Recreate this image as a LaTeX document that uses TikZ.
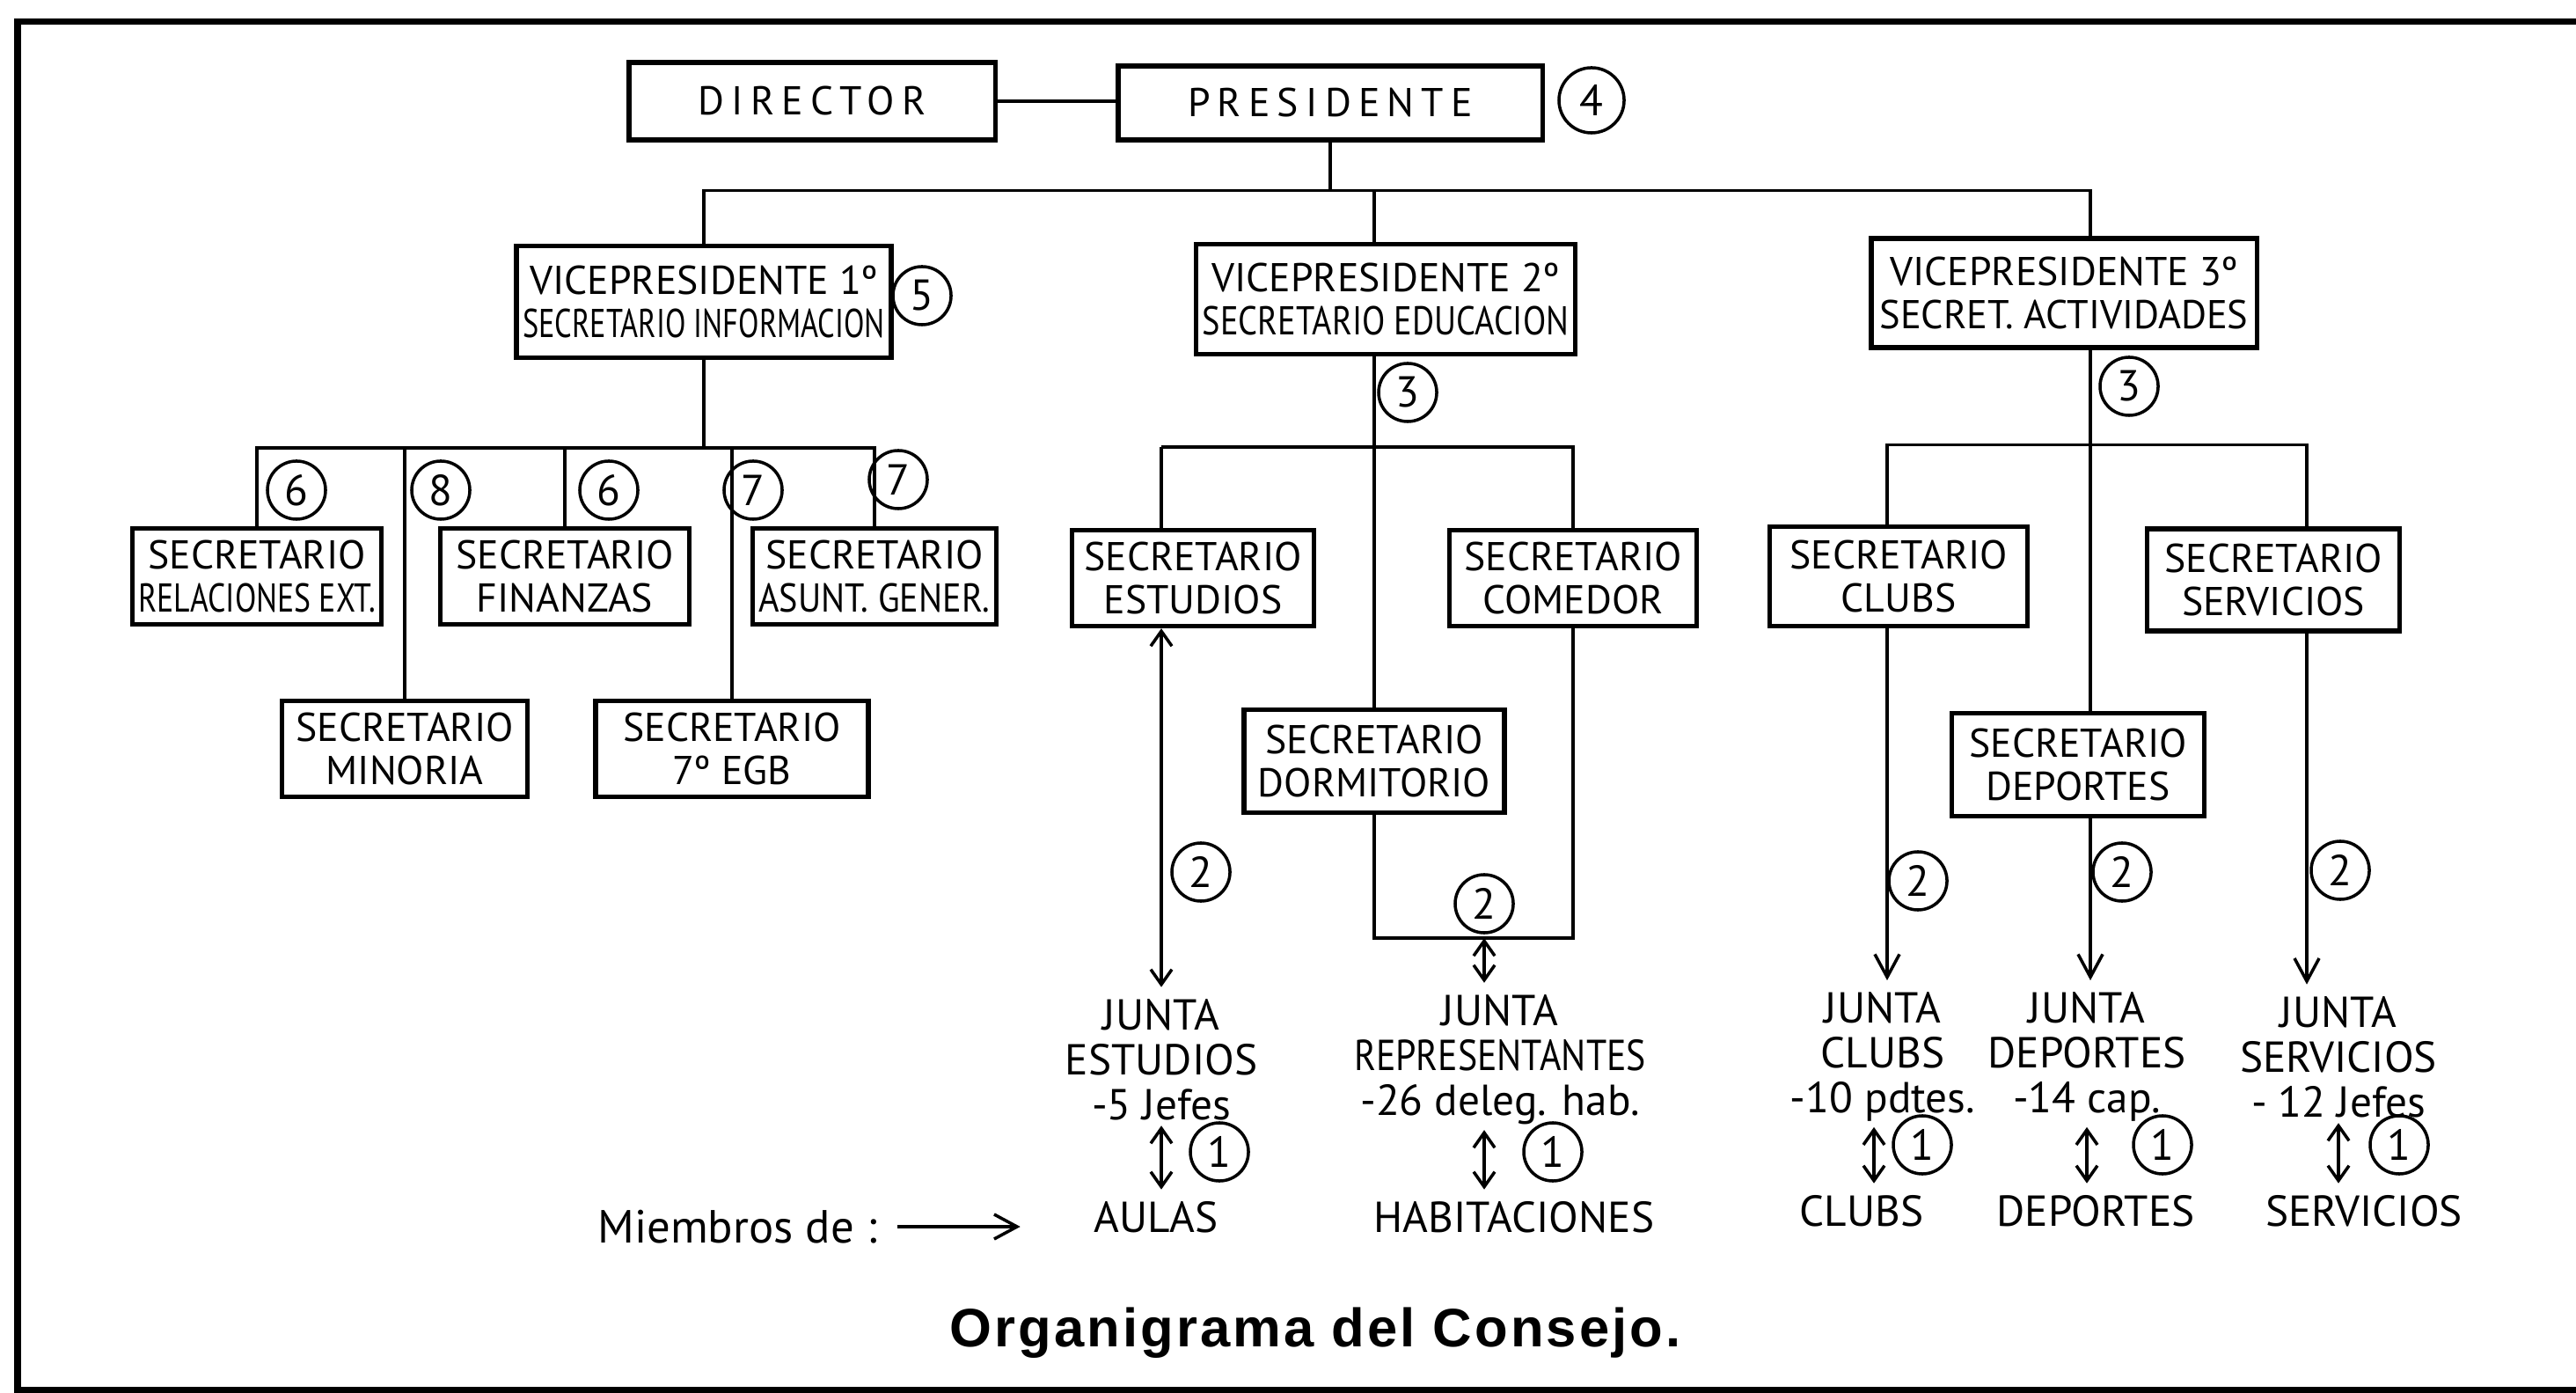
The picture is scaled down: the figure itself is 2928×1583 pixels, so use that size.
\documentclass[tikz,border=0pt]{standalone}
\usepackage{fontspec}
\setmainfont{PT Sans}
\newfontfamily\capfont[LetterSpace=5]{Liberation Sans}
\usepackage{graphicx}
\usetikzlibrary{arrows.meta,positioning}

\newcommand{\squeeze}[2]{\scalebox{#1}[1]{#2}}
\newcommand{\spread}[1]{{\addfontfeature{LetterSpace=18}#1}}

\begin{document}
\begin{tikzpicture}[
  x=0.01cm, y=-0.01cm,
  line width=1pt,
  box/.style={rectangle, draw, line width=1.5pt, align=center, inner sep=2pt,
              font=\fontsize{13}{14}\selectfont},
  num/.style={circle, draw, line width=1pt, minimum size=6.6mm, inner sep=0pt,
              font=\fontsize{14}{14}\selectfont},
  lbl/.style={align=center, font=\fontsize{14}{14.5}\selectfont},
  arr/.style={-{Straight Barb[length=2.6mm,width=2.8mm]}},
  dbl/.style={{Straight Barb[length=1.7mm,width=2.4mm]}-{Straight Barb[length=1.7mm,width=2.4mm]}}]
  \useasboundingbox (0,0) rectangle (2928,1583);
  \draw[line width=2pt] (2928,25) -- (20,25) -- (20,1580) -- (2928,1580);

  \node[box, minimum width=4.16cm, minimum height=8.8mm] (dir) at (923,115) {\spread{DIRECTOR}};
  \node[box, minimum width=4.82cm, minimum height=8.4mm] (pres) at (1512,117) {\spread{PRESIDENTE}};
  \node[num, minimum size=7.4mm] (n4) at (1809,114) {4};

  \node[box, minimum width=4.2cm, minimum height=12.7mm] (vp1) at (800,343)
    {VICEPRESIDENTE 1º\\\squeeze{0.75}{SECRETARIO INFORMACION}};
  \node[num] (n5) at (1048,336) {5};
  \node[box, minimum width=4.31cm, minimum height=12.5mm] (vp2) at (1575,340)
    {VICEPRESIDENTE 2º\\\squeeze{0.84}{SECRETARIO EDUCACION}};
  \node[num] (n3a) at (1600,446) {3};
  \node[box, minimum width=4.38cm, minimum height=12.4mm] (vp3) at (2346,333)
    {VICEPRESIDENTE 3º\\\squeeze{0.97}{SECRET. ACTIVIDADES}};
  \node[num] (n3b) at (2420,439) {3};

  \node[box, minimum width=2.71cm, minimum height=10.9mm] (rel) at (292,655)
    {SECRETARIO\\\squeeze{0.78}{RELACIONES EXT.}};
  \node[box, minimum width=2.83cm, minimum height=10.9mm] (fin) at (642,655) {SECRETARIO\\FINANZAS};
  \node[box, minimum width=2.75cm, minimum height=10.9mm] (asu) at (994,655)
    {SECRETARIO\\\squeeze{0.88}{ASUNT. GENER.}};
  \node[box, minimum width=2.79cm, minimum height=10.9mm] (min) at (460,851) {SECRETARIO\\MINORIA};
  \node[box, minimum width=3.1cm, minimum height=10.9mm] (egb) at (832,851) {SECRETARIO\\7º EGB};
  \node[num] (n6a) at (337,557) {6};
  \node[num] (n8) at (501,557) {8};
  \node[num] (n6b) at (692,557) {6};
  \node[num] (n7a) at (856,557) {7};
  \node[num] (n7b) at (1021,545) {7};

  \node[box, minimum width=2.75cm, minimum height=10.9mm] (est) at (1356,657) {SECRETARIO\\ESTUDIOS};
  \node[box, minimum width=2.81cm, minimum height=10.9mm] (com) at (1788,657) {SECRETARIO\\COMEDOR};
  \node[box, minimum width=2.96cm, minimum height=11.7mm] (dor) at (1562,865) {SECRETARIO\\DORMITORIO};
  \node[num] (n2a) at (1365,991) {2};
  \node[num] (n2b) at (1687,1027) {2};

  \node[box, minimum width=2.93cm, minimum height=11.3mm] (clu) at (2158,655) {SECRETARIO\\CLUBS};
  \node[box, minimum width=2.87cm, minimum height=11.6mm] (ser) at (2584,659) {SECRETARIO\\SERVICIOS};
  \node[box, minimum width=2.87cm, minimum height=11.7mm] (dep) at (2362,869) {SECRETARIO\\DEPORTES};
  \node[num] (n2c) at (2180,1001) {2};
  \node[num] (n2d) at (2412,991) {2};
  \node[num] (n2e) at (2660,989) {2};
  \coordinate (cx) at (2145,0);
  \coordinate (dx) at (2376,0);
  \coordinate (sx) at (2622,0);

  \node[lbl] (jest) at (1320,1204) {JUNTA\\ESTUDIOS\\-5 Jefes};
  \node[lbl] (jrep) at (1705,1204) {JUNTA\\\squeeze{0.85}{REPRESENTANTES}\\-26 deleg. hab.};
  \node[lbl] (jclu) at (2140,1201) {JUNTA\\CLUBS\\-10 pdtes.};
  \node[lbl] (jdep) at (2372,1201) {JUNTA\\DEPORTES\\-14 cap.};
  \node[lbl] (jser) at (2658,1201) {JUNTA\\SERVICIOS\\- 12 Jefes};

  \node[lbl] (aul) at (1314,1383) {AULAS};
  \node[lbl] (hab) at (1721,1383) {HABITACIONES};
  \node[lbl] (clb) at (2116,1376) {CLUBS};
  \node[lbl] (dpt) at (2382,1376) {DEPORTES};
  \node[lbl] (srv) at (2687,1376) {SERVICIOS};
  \node[num] (n1a) at (1386,1309) {1};
  \node[num] (n1b) at (1765,1309) {1};
  \node[num] (n1c) at (2185,1301) {1};
  \node[num] (n1d) at (2458,1301) {1};
  \node[num] (n1e) at (2727,1301) {1};
  \node[lbl, font=\fontsize{15}{15}\selectfont] (mie) at (838,1394) {Miembros de :};

  \node[font=\capfont\bfseries\fontsize{17.5}{17.5}\selectfont] (cap) at (1495,1515) {Organigrama del Consejo.};

  \draw (dir.east) -- (dir.east -| pres.west);
  \draw (pres.south) -- ++(0,55) coordinate (b0);
  \draw (vp1.north) |- (b0) -| (dx |- vp3.north);
  \draw (dor.north |- b0) -- (dor.north |- vp2.north);

  \draw (vp1.south) -- ++(0,100) coordinate (b1);
  \draw (rel.north) |- (b1) -| (asu.north);
  \draw (fin.north) -- (fin.north |- b1);
  \draw (min.north) -- (min.north |- b1);
  \draw (egb.north) -- (egb.north |- b1);

  \draw (dor.north |- vp2.south) -- (dor.north);
  \path (vp2.south) ++(0,103) coordinate (b2);
  \draw (jest.north |- b2) -| (com.north);
  \draw (jest.north |- b2) -- (jest.north |- est.north);
  \draw[dbl] (jest.north |- est.south) -- (jest.north);
  \draw (dor.south) -- ++(0,140) coordinate (b4) -| (com.south);
  \draw[dbl] (n2b.south |- b4) -- (n2b.south |- jrep.north);

  \path (vp3.south) ++(0,108) coordinate (b3);
  \draw (cx |- clu.north) |- (b3) -| (sx |- ser.north);
  \draw (dx |- vp3.south) -- (dx |- dep.north);
  \draw[arr] (cx |- clu.south) -- (cx |- jclu.north);
  \draw[arr] (dx |- dep.south) -- (dx |- jdep.north);
  \draw[arr] (sx |- ser.south) -- (sx |- jser.north);

  \draw[dbl] ([yshift=2pt]jest.south) -- (jest.south |- aul.north);
  \draw[dbl] ([yshift=2pt]n2b.south |- jrep.south) -- (n2b.south |- hab.north);
  \draw[dbl] ([xshift=-0.1cm, yshift=2pt]jclu.south) -- ([xshift=-0.1cm]jclu.south |- clb.north);
  \draw[dbl] ([yshift=2pt]jdep.south) -- (jdep.south |- dpt.north);
  \draw[dbl] ([yshift=2pt]jser.south) -- (jser.south |- srv.north);
  \draw[arr, shorten <=1mm, shorten >=7mm] (mie.east) -- (mie.east -| aul.west);
\end{tikzpicture}
\end{document}
